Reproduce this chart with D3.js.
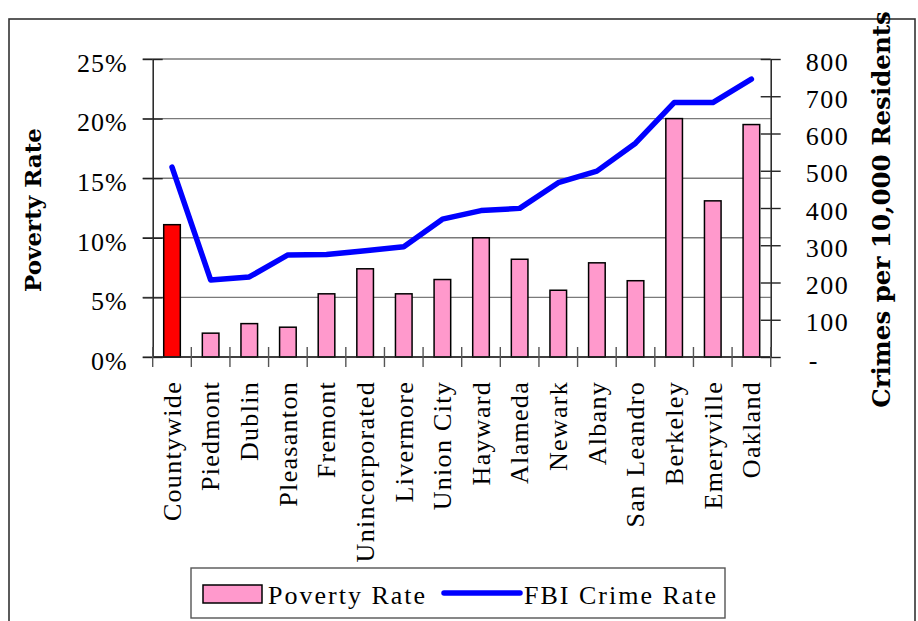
<!DOCTYPE html>
<html>
<head>
<meta charset="utf-8">
<script src="https://cdn.jsdelivr.net/npm/d3@7"></script>
<style>
  html, body { margin: 0; padding: 0; background: #fff; }
  svg { display: block; }
</style>
</head>
<body>
<svg id="chart" width="918" height="621" font-family="Liberation Serif, Times New Roman, serif"></svg>
<script>
// ---- data ----
const categories = ["Countywide", "Piedmont", "Dublin", "Pleasanton", "Fremont", "Unincorporated",
  "Livermore", "Union City", "Hayward", "Alameda", "Newark", "Albany", "San Leandro",
  "Berkeley", "Emeryville", "Oakland"];
const povertyRate = [0.111, 0.020, 0.028, 0.025, 0.053, 0.074, 0.053, 0.065, 0.100, 0.082,
  0.056, 0.079, 0.064, 0.200, 0.131, 0.195];
const crimeRate = [510, 207, 215, 274, 275, 285, 296, 370, 393, 399, 468, 499, 574, 683, 683, 746];
const leftTicks = [0, 0.05, 0.10, 0.15, 0.20, 0.25];
const rightTicks = [0, 100, 200, 300, 400, 500, 600, 700, 800];
const seriesNames = ["Poverty Rate", "FBI Crime Rate"];
const leftTitle = "Poverty Rate";
const rightTitle = "Crimes per 10,000 Residents";

// ---- layout ----
const svg = d3.select("#chart");
const plot = { left: 152.7, right: 770.7, top: 59, bottom: 357 };

// outer frame
svg.append("rect").attr("x", 9).attr("y", 19).attr("width", 906).attr("height", 630)
  .attr("fill", "none").attr("stroke", "#333").attr("stroke-width", 1.6);

const x = d3.scaleBand().domain(categories).range([plot.left, plot.right]).paddingInner(0).paddingOuter(0);
const yL = d3.scaleLinear().domain([0, 0.25]).range([plot.bottom, plot.top]);
const yR = d3.scaleLinear().domain([0, 800]).range([plot.bottom, plot.top]);

// gridlines
svg.append("g").selectAll("line").data(leftTicks).join("line")
  .attr("x1", plot.left - 10).attr("x2", plot.right)
  .attr("y1", d => yL(d)).attr("y2", d => yL(d))
  .attr("stroke", "#7a7a7a").attr("stroke-width", 1.4);

// bars
const bw = x.bandwidth() * 0.43;
svg.append("g").selectAll("rect").data(categories).join("rect")
  .attr("x", d => x(d) + x.bandwidth() / 2 - bw / 2)
  .attr("width", bw)
  .attr("y", (d, i) => yL(povertyRate[i]))
  .attr("height", (d, i) => yL(0) - yL(povertyRate[i]))
  .attr("fill", (d, i) => i === 0 ? "#ff0000" : "#ff99cc")
  .attr("stroke", "#000").attr("stroke-width", 1.5);

// left axis
const axL = svg.append("g").attr("transform", `translate(${plot.left},0)`)
  .call(d3.axisLeft(yL).tickValues(leftTicks).tickFormat(d3.format(".0%")).tickSizeInner(10).tickSizeOuter(0).tickPadding(15));
axL.attr("font-family", null).attr("font-size", null);
axL.select(".domain").attr("stroke", "#222").attr("stroke-width", 1.5);
axL.selectAll(".tick line").attr("stroke", "#222").attr("stroke-width", 1.4);
axL.selectAll(".tick").append("line").attr("x1", 0).attr("x2", 10).attr("stroke", "#222").attr("stroke-width", 1.4);
axL.selectAll(".tick text").attr("font-size", 26)
  .attr("letter-spacing", 1).attr("dy", "0.47em").attr("fill", "#000");

// right axis
const axR = svg.append("g").attr("transform", `translate(${plot.right},0)`)
  .call(d3.axisRight(yR).tickValues(rightTicks).tickFormat(d => d === 0 ? "-" : d3.format(",")(d)).tickSizeInner(10).tickSizeOuter(0).tickPadding(25));
axR.attr("font-family", null).attr("font-size", null);
axR.select(".domain").attr("stroke", "#222").attr("stroke-width", 1.5);
axR.selectAll(".tick line").attr("stroke", "#222").attr("stroke-width", 1.4);
axR.selectAll(".tick").append("line").attr("x1", 0).attr("x2", -10).attr("stroke", "#222").attr("stroke-width", 1.4);
axR.selectAll(".tick text").attr("font-size", 26)
  .attr("letter-spacing", 1.5).attr("dy", "0.43em").attr("fill", "#000")
  .attr("dx", d => d === 0 ? 3 : 0);

// bottom axis
const bounds = categories.map(c => x(c)).concat([plot.right]);
svg.append("line").attr("x1", plot.left).attr("x2", plot.right).attr("y1", plot.bottom).attr("y2", plot.bottom)
  .attr("stroke", "#222").attr("stroke-width", 1.5);
svg.append("g").selectAll("line").data(bounds).join("line")
  .attr("x1", d => d).attr("x2", d => d).attr("y1", plot.bottom - 10).attr("y2", plot.bottom + 10)
  .attr("stroke", "#555").attr("stroke-width", 1.4);
svg.append("g").selectAll("text").data(categories).join("text")
  .attr("transform", d => `translate(${x(d) + x.bandwidth() / 2},381) rotate(-90)`)
  .attr("text-anchor", "end").attr("dy", "0.34em")
  .attr("font-size", 26).attr("letter-spacing", 1.3)
  .text(d => d);

// crime line
const line = d3.line().x((d, i) => x(categories[i]) + x.bandwidth() / 2).y(d => yR(d));
svg.append("path").datum(crimeRate).attr("d", line)
  .attr("fill", "none").attr("stroke", "#0000ff").attr("stroke-width", 5.5)
  .attr("stroke-linejoin", "round").attr("stroke-linecap", "round");

// axis titles
svg.append("text").attr("transform", `translate(41,${(plot.top + plot.bottom) / 2 + 2}) rotate(-90)`)
  .attr("text-anchor", "middle").attr("font-family", "DejaVu Serif").attr("font-weight", "bold")
  .attr("font-size", 23).text(leftTitle);
svg.append("text").attr("transform", `translate(890,${(plot.top + plot.bottom) / 2 + 1.5}) rotate(-90)`)
  .attr("text-anchor", "middle").attr("font-family", "DejaVu Serif").attr("font-weight", "bold")
  .attr("font-size", 24.5).text(rightTitle);

// legend
const lg = svg.append("g");
lg.append("rect").attr("x", 191).attr("y", 568).attr("width", 534).attr("height", 50)
  .attr("fill", "#fff").attr("stroke", "#555").attr("stroke-width", 1.4);
lg.append("rect").attr("x", 203).attr("y", 585).attr("width", 59).attr("height", 18)
  .attr("fill", "#ff99cc").attr("stroke", "#000").attr("stroke-width", 1.5);
lg.append("text").attr("x", 268).attr("y", 604).attr("font-size", 26).attr("letter-spacing", 2).text(seriesNames[0]);
lg.append("line").attr("x1", 444).attr("x2", 520).attr("y1", 593).attr("y2", 593)
  .attr("stroke", "#0000ff").attr("stroke-width", 5.5).attr("stroke-linecap", "round");
lg.append("text").attr("x", 524).attr("y", 604).attr("font-size", 26).attr("letter-spacing", 2).text(seriesNames[1]);
</script>
</body>
</html>
